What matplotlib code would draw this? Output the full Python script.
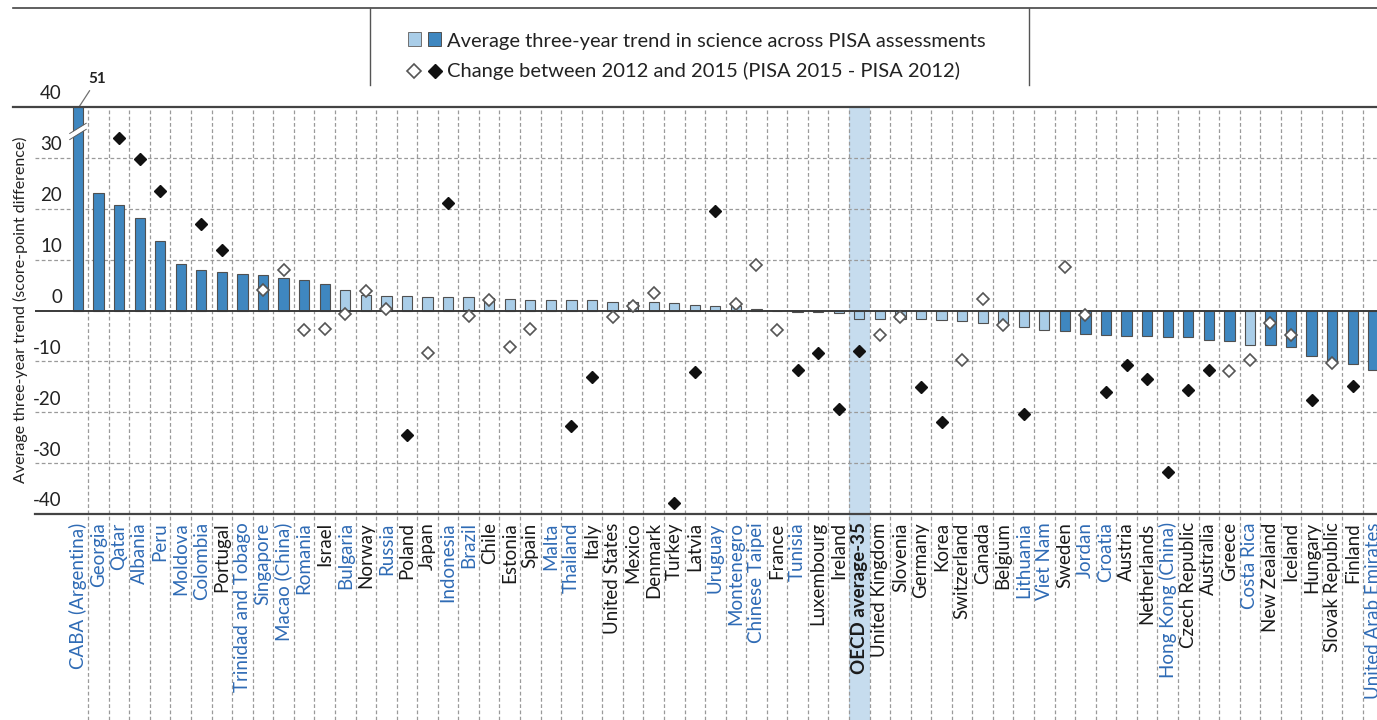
import numpy as np
import matplotlib
matplotlib.use("Agg")
import matplotlib.pyplot as plt
from matplotlib.lines import Line2D
from matplotlib.patches import Rectangle

plt.rcParams['font.family'] = ['Lato', 'DejaVu Sans']

countries = [
    "CABA (Argentina)", "Georgia", "Qatar", "Albania", "Peru", "Moldova", "Colombia",
    "Portugal", "Trinidad and Tobago", "Singapore", "Macao (China)", "Romania", "Israel",
    "Bulgaria", "Norway", "Russia", "Poland", "Japan", "Indonesia", "Brazil", "Chile",
    "Estonia", "Spain", "Malta", "Thailand", "Italy", "United States", "Mexico", "Denmark",
    "Turkey", "Latvia", "Uruguay", "Montenegro", "Chinese Taipei", "France", "Tunisia",
    "Luxembourg", "Ireland", "OECD average-35", "United Kingdom", "Slovenia", "Germany",
    "Korea", "Switzerland", "Canada", "Belgium", "Lithuania", "Viet Nam", "Sweden", "Jordan",
    "Croatia", "Austria", "Netherlands", "Hong Kong (China)", "Czech Republic", "Australia",
    "Greece", "Costa Rica", "New Zealand", "Iceland", "Hungary", "Slovak Republic",
    "Finland", "United Arab Emirates",
]

partners = {
    "CABA (Argentina)", "Georgia", "Qatar", "Albania", "Peru", "Moldova", "Colombia",
    "Trinidad and Tobago", "Singapore", "Macao (China)", "Romania", "Bulgaria", "Russia",
    "Indonesia", "Brazil", "Malta", "Thailand", "Uruguay", "Montenegro", "Chinese Taipei",
    "Tunisia", "Lithuania", "Viet Nam", "Jordan", "Croatia", "Hong Kong (China)",
    "Costa Rica", "United Arab Emirates",
}

# average three-year trend in science
trend = [
    51, 23.0, 20.8, 18.2, 13.6, 9.1, 8.0, 7.5, 7.2, 6.9, 6.3, 6.0, 5.3,
    4.1, 3.1, 2.9, 2.9, 2.7, 2.7, 2.7, 2.4, 2.2, 2.1, 2.1, 2.0, 2.0, 1.7, 1.6, 1.6,
    1.4, 1.0, 0.9, 0.8, 0.2, -0.1, -0.2, -0.3, -0.4, -1.6, -1.6, -1.6, -1.7,
    -1.8, -2.1, -2.4, -2.8, -3.3, -3.8, -4.1, -4.7, -4.8, -5.0, -5.0, -5.2, -5.2, -5.8,
    -6.0, -6.7, -6.7, -7.1, -9.0, -10.3, -10.6, -11.6,
]
trend_sig = [True] * 13 + [False] * 35 + [True] * 9 + [False] + [True] * 6

nan = np.nan
# change between 2012 and 2015
change = [
    nan, nan, 33.9, 29.7, 23.4, nan, 17.0, 11.8, nan, 4.1, 8.0, -3.9, -3.6,
    -0.7, 3.9, 0.3, -24.4, -8.4, 21.1, -1.0, 2.0, -7.2, -3.7, nan, -22.7, -13.1,
    -1.2, 0.8, 3.5, -37.9, -12.0, 19.5, 1.3, 9.0, -3.9, -11.6, -8.4, -19.4, -8.0,
    -4.9, -1.3, -15.0, -22.0, -9.8, 2.3, -2.9, -20.3, nan, 8.5, -0.8, -16.0, -10.8,
    -13.5, -31.7, -15.6, -11.6, -11.9, -9.8, -2.4, -4.9, -17.5, -10.3, -14.8, nan,
]
change_sig = [
    False, False, True, True, True, False, True, True, False, False, False, False, False,
    False, False, False, True, False, True, False, False, False, False, False, True, True,
    False, False, False, True, True, True, False, False, False, True, True, True, True,
    False, False, True, True, False, False, False, True, False, False, False, True, True,
    True, True, True, True, False, False, False, False, True, False, True, False,
]

W, H = 1377, 720
DARK = "#3f87c0"
LIGHT = "#a9cde8"
BAND = "#c6dcee"
BLUE_TXT = "#2f6bb5"
GRID = "#9a9a9a"

fig = plt.figure(figsize=(W / 100, H / 100), dpi=100)
ax = fig.add_axes([35 / W, (H - 514) / H, (W - 35) / W, (514 - 107) / H])

x = np.arange(len(countries))
trend = np.array(trend)
change = np.array(change)
trend_sig = np.array(trend_sig)
change_sig = np.array(change_sig)

ax.set_xlim(-2.09, 63.18)
ax.set_ylim(-40, 40)

# OECD band, runs down through the labels
oecd = countries.index("OECD average-35")
below = -(H - 514) / (514 - 107)
ax.add_patch(Rectangle((oecd - 0.5, below), 1, 1 - below, transform=ax.get_xaxis_transform(),
                       facecolor=BAND, edgecolor="none", zorder=0, clip_on=False))

# grid
for v in [-30, -20, -10, 10, 20, 30]:
    ax.axhline(v, color=GRID, lw=0.9, ls=(0, (3, 2)), zorder=1)
ax.vlines(x[:-1] + 0.5, below, 1, transform=ax.get_xaxis_transform(), colors=GRID,
          lw=0.9, linestyles=(0, (3, 2)), zorder=1, clip_on=False)

bar_colors = [DARK if s else LIGHT for s in trend_sig]
ax.bar(x, trend, width=0.5, color=bar_colors, edgecolor="#505050", linewidth=0.8, zorder=3)
ax.axhline(0, color="#3a3a3a", lw=1.4, zorder=4)

# break on the clipped first bar
ax.plot([-0.4, 0.4], [34.2, 36.2], color="white", lw=3.5, zorder=5, solid_capstyle="butt")
ax.plot([-0.4, 0.4], [33.6, 35.6], color="#606060", lw=0.7, zorder=5)
ax.plot([-0.4, 0.4], [34.8, 36.8], color="#606060", lw=0.7, zorder=5)
ax.annotate("51", xy=(0.05, 40), xytext=(0.95, 45.6), ha="center", va="center",
            fontsize=11, fontweight="bold", color="#222222", annotation_clip=False,
            arrowprops=dict(arrowstyle="-", color="#707070", lw=0.9, shrinkA=2, shrinkB=0))

ax.plot(x[change_sig], change[change_sig], ls="none", marker="D", ms=6.3,
        mfc="#111111", mec="#111111", zorder=6)
open_pts = ~change_sig & ~np.isnan(change)
ax.plot(x[open_pts], change[open_pts], ls="none", marker="D", ms=6.3,
        mfc="white", mec="#555555", mew=1.2, zorder=6)

for s in ["left", "right", "top"]:
    ax.spines[s].set_visible(False)
ax.spines["bottom"].set_color("#444444")
ax.spines["bottom"].set_linewidth(1.6)

ax.set_yticks([])
for v in range(-40, 41, 10):
    ax.text(0.0201, v + 0.9, str(v), transform=ax.get_yaxis_transform(), ha="right",
            va="bottom", fontsize=13.5, color="#222222")

ax.set_xticks(x)
ax.set_xticklabels(countries, rotation=90, fontsize=13.5, va="top", ha="center")
ax.tick_params(axis="x", length=0, pad=6)
for lab in ax.get_xticklabels():
    name = lab.get_text()
    lab.set_color(BLUE_TXT if name in partners else "#1a1a1a")
    if name == "OECD average-35":
        lab.set_fontweight("bold")

fig.text(20 / W, 1 - 310 / H, "Average three-year trend (score-point difference)",
         rotation=90, ha="center", va="center", fontsize=11.5, color="#222222")

# frame lines and legend
def fx(px):
    return px / W

def fy(py):
    return 1 - py / H

fig.add_artist(Line2D([fx(13), 1], [fy(107), fy(107)], color="#444444", lw=1.6))
fig.add_artist(Line2D([fx(13), 1], [fy(8), fy(8)], color="#444444", lw=1.2))
fig.add_artist(Line2D([fx(370), fx(370)], [fy(8), fy(85)], color="#555555", lw=1.0))
fig.add_artist(Line2D([fx(1029), fx(1029)], [fy(8), fy(85)], color="#555555", lw=1.0))

fig.add_artist(Rectangle((fx(408), fy(46)), 13 / W, 14 / H, facecolor=LIGHT,
                         edgecolor="#707070", lw=0.7))
fig.add_artist(Rectangle((fx(428), fy(46)), 13 / W, 14 / H, facecolor=DARK,
                         edgecolor="#505050", lw=0.7))
fig.add_artist(Line2D([fx(414)], [fy(71)], marker="D", ms=6.8, mfc="white",
                      mec="#555555", mew=1.2, ls="none"))
fig.add_artist(Line2D([fx(435)], [fy(71)], marker="D", ms=6.8, mfc="#111111",
                      mec="#111111", ls="none"))
fig.text(fx(447), fy(41), "Average three-year trend in science across PISA assessments",
         ha="left", va="center", fontsize=14.5, color="#222222")
fig.text(fx(447), fy(71), "Change between 2012 and 2015 (PISA 2015 - PISA 2012)",
         ha="left", va="center", fontsize=14.5, color="#222222")

fig.savefig("out.png", dpi=100)
